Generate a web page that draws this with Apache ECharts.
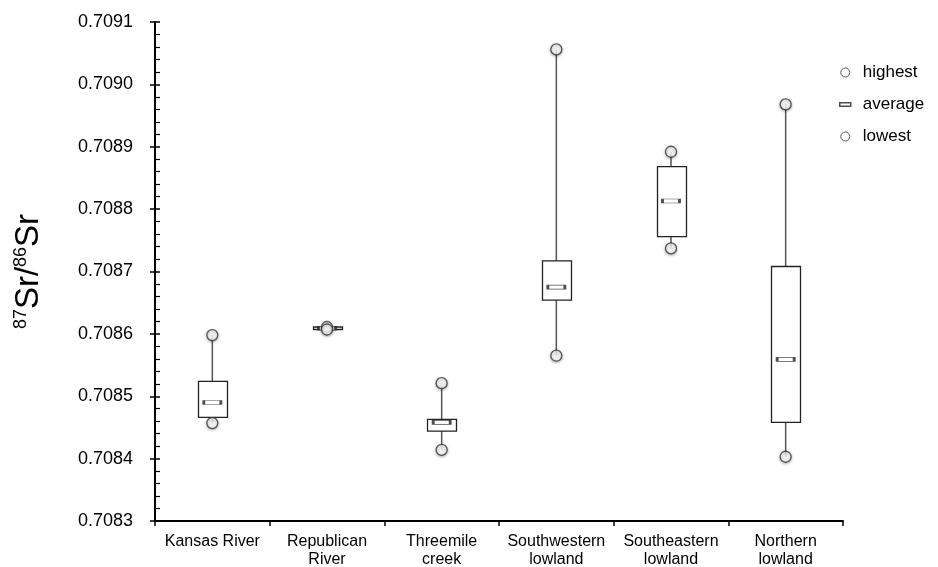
<!DOCTYPE html>
<html>
<head>
<meta charset="utf-8">
<script src="https://cdn.jsdelivr.net/npm/echarts@6/dist/echarts.min.js"></script>
<style>
html,body{margin:0;padding:0;background:#fff;}
#chart{width:938px;height:567px;}
</style>
</head>
<body>
<div id="chart"></div>
<script>
var categories = ['Kansas River', 'Republican\nRiver', 'Threemile\ncreek', 'Southwestern\nlowland', 'Southeastern\nlowland', 'Northern\nlowland'];
var highest   = [0.708598, 0.708611, 0.708521, 0.709056, 0.708892, 0.708968];
var lowest    = [0.708457, 0.708607, 0.708414, 0.708565, 0.708737, 0.708403];
var boxTop    = [0.708524, 0.708611, 0.708463, 0.708717, 0.708868, 0.708708];
var boxBottom = [0.708466, 0.708607, 0.708444, 0.708654, 0.708756, 0.708458];
var average   = [0.708490, 0.708609, 0.708458, 0.708675, 0.708813, 0.708559];
var yTicks = { min: 0.7083, max: 0.7091, interval: 0.0001 };

var boxData = categories.map(function (c, i) {
  return [i, lowest[i], boxBottom[i], boxTop[i], highest[i]];
});

var chart = echarts.init(document.getElementById('chart'), null, { renderer: 'canvas' });
var font = 'Liberation Sans, Arial, sans-serif';

function renderBox(params, api) {
  var x = api.value(0);
  var pLow = api.coord([x, api.value(1)]);
  var pB = api.coord([x, api.value(2)]);
  var pT = api.coord([x, api.value(3)]);
  var pHigh = api.coord([x, api.value(4)]);
  var bw = 29;
  var h = Math.max(pB[1] - pT[1], 2);
  return {
    type: 'group',
    children: [
      { type: 'line', shape: { x1: pHigh[0], y1: pHigh[1], x2: pLow[0], y2: pLow[1] },
        style: { stroke: '#555', lineWidth: 1.5 } },
      { type: 'rect', shape: { x: Math.round(pT[0] - bw / 2) + 0.5, y: pT[1], width: bw, height: h },
        style: { fill: '#fff', stroke: '#222', lineWidth: 1.3 } }
    ]
  };
}

var circleStyle = { color: '#fff', borderColor: '#333', borderWidth: 1.3,
  shadowBlur: 3, shadowColor: 'rgba(0,0,0,0.35)', shadowOffsetY: 1 };

chart.setOption({
  animation: false,
  backgroundColor: '#fff',
  grid: { left: 155, right: 95, top: 22, bottom: 46, containLabel: false, outerBoundsMode: 'none' },
  legend: {
    orient: 'vertical', left: 834, top: 59, itemGap: 15,
    itemWidth: 11, itemHeight: 9,
    textStyle: { fontFamily: font, fontSize: 17, color: '#000', padding: [0, 0, 0, 7] },
    data: [
      { name: 'highest', icon: 'circle', itemStyle: { color: '#fff', borderColor: '#333', borderWidth: 1 } },
      { name: 'average', icon: 'path://M0,0h10v3h-10z', itemStyle: { color: '#fff', borderColor: '#222', borderWidth: 1.5 } },
      { name: 'lowest', icon: 'circle', itemStyle: { color: '#fff', borderColor: '#333', borderWidth: 1 } }
    ]
  },
  xAxis: {
    type: 'category', data: categories, boundaryGap: true,
    axisLine: { lineStyle: { color: '#000', width: 2 } },
    axisTick: { show: true, length: 5, lineStyle: { color: '#000', width: 1.5 } },
    axisLabel: { fontFamily: font, fontSize: 16, color: '#000', margin: 12, lineHeight: 18, interval: 0 },
    splitLine: { show: false }
  },
  yAxis: [
    {
      type: 'value', min: yTicks.min, max: yTicks.max, interval: yTicks.interval,
      name: '{sup|87}{big|Sr/}{sup|86}{big|Sr}', nameLocation: 'middle', nameGap: 110, nameRotate: 90,
      nameTextStyle: {
        rich: {
          big: { fontFamily: font, fontSize: 33, color: '#000', verticalAlign: 'bottom' },
          sup: { fontFamily: font, fontSize: 18, color: '#000', verticalAlign: 'top', padding: [0, 0, 14, 0] }
        }
      },
      axisLine: { show: true, lineStyle: { color: '#000', width: 2 } },
      axisTick: { show: true, length: 5, lineStyle: { color: '#000', width: 1.5 } },
      axisLabel: { fontFamily: font, fontSize: 18, color: '#000', margin: 22,
        formatter: function (v) { return v.toFixed(4); } },
      splitLine: { show: false }
    },
    {
      type: 'value', position: 'left', min: yTicks.min, max: yTicks.max, interval: yTicks.interval,
      axisLine: { show: false },
      axisTick: { show: true, inside: true, length: 5, lineStyle: { color: '#000', width: 1.5 } },
      minorTick: { show: true, splitNumber: 5, length: 5, lineStyle: { color: '#000', width: 1.2 } },
      axisLabel: { show: false },
      splitLine: { show: false }
    }
  ],
  series: [
    {
      type: 'custom', name: 'box', renderItem: renderBox, data: boxData,
      encode: { x: 0, y: [1, 2, 3, 4] }, z: 2, silent: true
    },
    {
      type: 'scatter', name: 'average', data: average.map(function (v, i) { return [i, v]; }),
      symbol: 'rect', symbolSize: [17, 4],
      itemStyle: { color: '#fff', borderColor: '#222', borderWidth: 1.4 }, z: 3
    },
    {
      type: 'scatter', name: 'highest', data: highest.map(function (v, i) { return [i, v]; }),
      symbol: 'circle', symbolSize: 11, itemStyle: circleStyle, z: 4
    },
    {
      type: 'scatter', name: 'lowest', data: lowest.map(function (v, i) { return [i, v]; }),
      symbol: 'circle', symbolSize: 11, itemStyle: circleStyle, z: 4
    }
  ]
});
</script>
</body>
</html>
